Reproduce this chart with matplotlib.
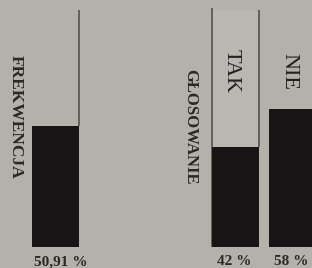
import matplotlib
matplotlib.use("Agg")
import matplotlib.pyplot as plt

# Data
turnout_label = "FREKWENCJA"
turnout_value = 50.91
turnout_text = "50,91 %"

vote_title = "GŁOSOWANIE"
vote_categories = ["TAK", "NIE"]
vote_values = [42, 58]
vote_texts = ["42 %", "58 %"]

BG = "#b3b1aa"
BAR = "#161414"
LINE = "#5a5955"

fig = plt.figure(figsize=(3.12, 2.68), dpi=100, facecolor=BG)
ax = fig.add_axes([0, 0, 1, 1])
ax.set_facecolor(BG)
ax.set_xlim(0, 312)
ax.set_ylim(-8.9, 104.2)
ax.axis("off")

serif = ["Liberation Serif", "DejaVu Serif"]
W = 47

# Turnout panel
x_t = 55.5
ax.bar([x_t], [turnout_value], width=W, color=BAR, zorder=3)
ax.vlines(x_t + W / 2, turnout_value, 100, color=LINE, lw=1.3, zorder=2)
ax.text(16, 55, turnout_label, rotation=-90, ha="center", va="center",
        fontsize=12.5, fontweight="bold", family=serif, color="#2a2826")
ax.text(x_t + 5, -6.3, turnout_text, ha="center", va="center",
        fontsize=11, fontweight="bold", family=serif, color="#2a2826")

# Vote panel
xs = [235.5, 292.5]
ax.text(190, 50.8, vote_title, rotation=-90, ha="center", va="center",
        fontsize=12, fontweight="bold", family=serif, color="#2a2826")
# light box above TAK
ax.bar([xs[0]], [100 - vote_values[0]], bottom=vote_values[0], width=W,
       color="#b9b7b1", zorder=1)
ax.vlines(xs[0] - W / 2, 0, 100.8, color=LINE, lw=1.3, zorder=2)
ax.vlines(xs[0] + W / 2, vote_values[0], 100, color=LINE, lw=1.3, zorder=2)
ax.bar(xs, vote_values, width=W, color=BAR, zorder=3)
for x, cat, txt, dx in zip(xs, vote_categories, vote_texts, [-4.5, -4]):
    ax.text(x + dx, 74, cat, rotation=-90, ha="center", va="center",
            fontsize=16, family=serif, color="#222020")
    ax.text(x - 1.5, -6.3, txt, ha="center", va="center",
            fontsize=11, fontweight="bold", family=serif, color="#2a2826")

fig.savefig("out.png", dpi=100, facecolor=BG)
